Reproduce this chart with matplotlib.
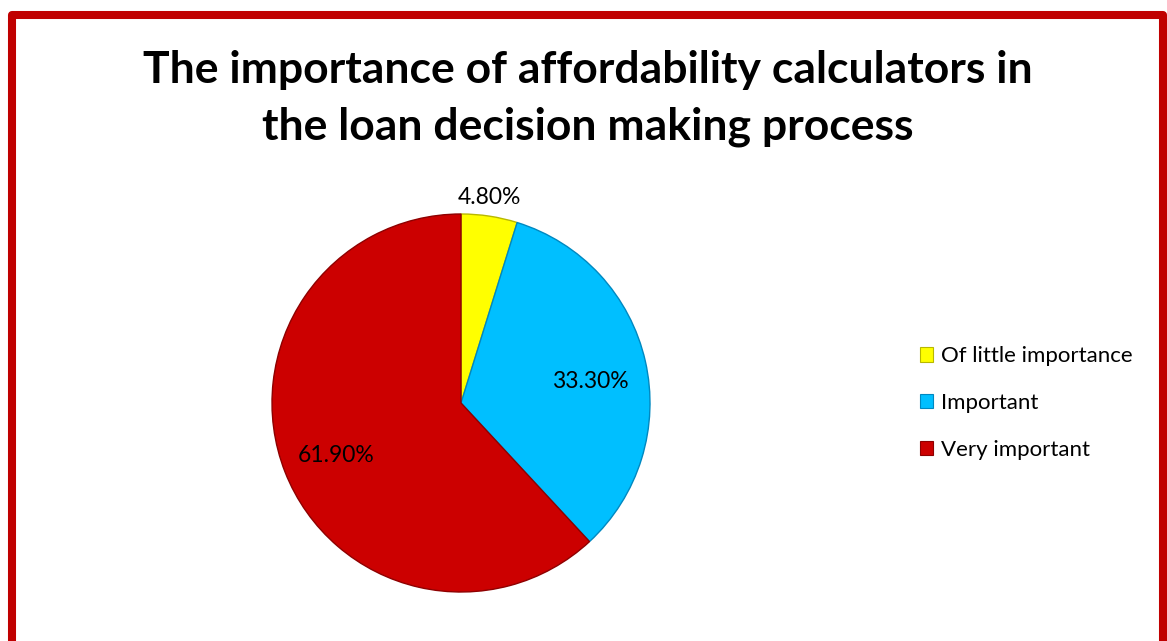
import matplotlib.pyplot as plt
from matplotlib.lines import Line2D
from matplotlib.patches import Patch

categories = ["Of little importance", "Important", "Very important"]
shares = [4.8, 33.3, 61.9]
label_text = ["4.80%", "33.30%", "61.90%"]
colors = ["#FFFF00", "#00BFFF", "#CC0000"]
edge_colors = ["#B8B800", "#0088C0", "#8E0000"]

W, H = 1167, 641
fig = plt.figure(figsize=(W / 100, H / 100), dpi=100)
fig.patch.set_facecolor("white")

# red frame (open at the bottom)
frame = Line2D([12 / W, 12 / W, 1163 / W, 1163 / W],
               [0, 1 - 15 / H, 1 - 15 / H, 0],
               transform=fig.transFigure, color="#C00000", lw=5.8,
               solid_joinstyle="round")
fig.add_artist(frame)

fig.text(588 / W, 1 - 70 / H, "The importance of affordability calculators in",
         ha="center", va="center", fontsize=32, fontweight="bold",
         family="Lato")
fig.text(588 / W, 1 - 127 / H, "the loan decision making process",
         ha="center", va="center", fontsize=32, fontweight="bold",
         family="Lato")

cx, cy, r = 461, 403, 189
ax = fig.add_axes([(cx - r) / W, (H - cy - r) / H, 2 * r / W, 2 * r / H])
wedges, _ = ax.pie(shares, colors=colors, startangle=90, counterclock=False,
                   radius=1.0, wedgeprops=dict(linewidth=1.0))
for w, ec in zip(wedges, edge_colors):
    w.set_edgecolor(ec)
ax.set_xlim(-1, 1)
ax.set_ylim(-1, 1)
ax.set_aspect("equal")
ax.axis("off")

label_pos = [(489, 197), (590, 381), (336, 455)]
for (px, py), t in zip(label_pos, label_text):
    fig.text(px / W, 1 - py / H, t, ha="center", va="center",
             fontsize=16.5, family="Lato")

handles = [Patch(facecolor=c, edgecolor=ec, linewidth=0.8)
           for c, ec in zip(colors, edge_colors)]
fig.legend(handles, categories, loc="center left",
           bbox_to_anchor=(900 / W, 1 - 403 / H), frameon=False,
           prop=dict(family="Lato", size=16), handlelength=0.6,
           handleheight=0.6, handletextpad=0.35, labelspacing=1.2)

fig.savefig("out.png", dpi=100)
